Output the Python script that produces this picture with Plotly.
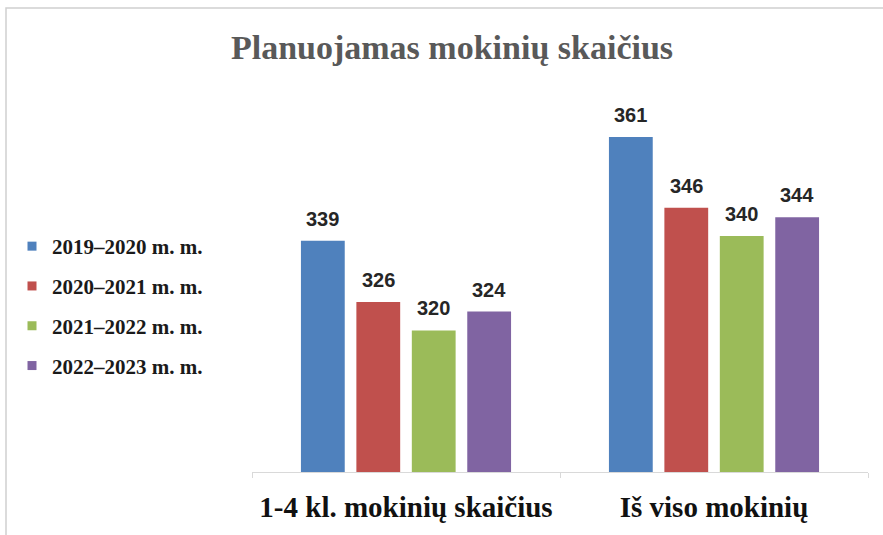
import plotly.graph_objects as go

categories = ["1-4 kl. mokinių skaičius", "Iš viso mokinių"]
series_names = ["2019–2020 m. m.", "2020–2021 m. m.", "2021–2022 m. m.", "2022–2023 m. m."]
values_2019 = [339, 361]
values_2020 = [326, 346]
values_2021 = [320, 340]
values_2022 = [324, 344]
colors = ["#4F81BD", "#C0504D", "#9BBB59", "#8064A2"]

all_values = [values_2019, values_2020, values_2021, values_2022]

W, H = 883, 535
ml, mr, mt, mb = 252, 15, 85, 63
bargap = 0.28
bargroupgap = 0.21

fig = go.Figure()
for i, (name, vals, col) in enumerate(zip(series_names, all_values, colors)):
    fig.add_trace(go.Bar(
        x=categories, y=vals, name=name,
        marker=dict(color=col, line=dict(width=0)),
        legendgroup=f"g{i}", showlegend=False,
        hoverinfo="y",
    ))
# legend entries with small square markers
for i, (name, col) in enumerate(zip(series_names, colors)):
    fig.add_trace(go.Scatter(
        x=[None], y=[None], mode="markers", name=f"<b>{name}</b>",
        marker=dict(symbol="square", size=9, color=col),
        legendgroup=f"g{i}", showlegend=True,
    ))

# value labels above bars
n = len(all_values)
slot = (1 - bargap) / n
annotations = []
for i, vals in enumerate(all_values):
    for ci, v in enumerate(vals):
        xc = ci - (1 - bargap) / 2 + slot * (i + 0.5)
        annotations.append(dict(
            x=xc, y=v, xref="x", yref="y", text=f"<b>{v}</b>",
            showarrow=False, yshift=22,
            font=dict(family="Liberation Sans, Arial, sans-serif", size=20, color="#262626"),
        ))

pw = W - ml - mr
ph = H - mt - mb

fig.update_layout(
    width=W, height=H,
    margin=dict(l=ml, r=mr, t=mt, b=mb, autoexpand=False),
    paper_bgcolor="white", plot_bgcolor="white",
    barmode="group", bargap=bargap, bargroupgap=bargroupgap,
    title=dict(
        text="<b>Planuojamas mokinių skaičius</b>",
        x=452 / W, xanchor="center", y=1 - 47 / H, yanchor="middle",
        font=dict(family="Liberation Serif, Times New Roman, serif", size=34, color="#595959"),
    ),
    legend=dict(
        x=(12 - ml) / pw, xanchor="left",
        y=1 - (226 - mt) / ph, yanchor="top",
        font=dict(family="Liberation Serif, Times New Roman, serif", size=21, color="#1a1a1a"),
        tracegroupgap=9.5, itemwidth=30,
        bgcolor="rgba(0,0,0,0)",
    ),
    xaxis=dict(
        type="category",
        showline=True, linecolor="#d9d9d9", linewidth=1,
        ticks="outside", tickson="boundaries", ticklen=5, tickcolor="#d9d9d9",
        tickfont=dict(family="Liberation Serif, Times New Roman, serif", size=29, color="#111111"),
        tickprefix="<b>", ticksuffix="</b>", ticklabelstandoff=9,
        showgrid=False, zeroline=False,
    ),
    yaxis=dict(
        range=[290, 372], visible=False, showgrid=False, zeroline=False,
    ),
    annotations=annotations,
    shapes=[dict(
        type="rect", xref="paper", yref="paper",
        x0=(6 - ml) / pw, x1=(W + 20 - ml) / pw,
        y0=-(mb + 20) / ph, y1=1 + (mt - 8) / ph,
        line=dict(color="#d0d0d0", width=1.5), layer="below",
    )],
    showlegend=True,
)

fig.write_html(
    "out.html",
    config={"displayModeBar": False},
    post_script="document.body.style.margin='0px';document.body.style.overflow='hidden';",
)
